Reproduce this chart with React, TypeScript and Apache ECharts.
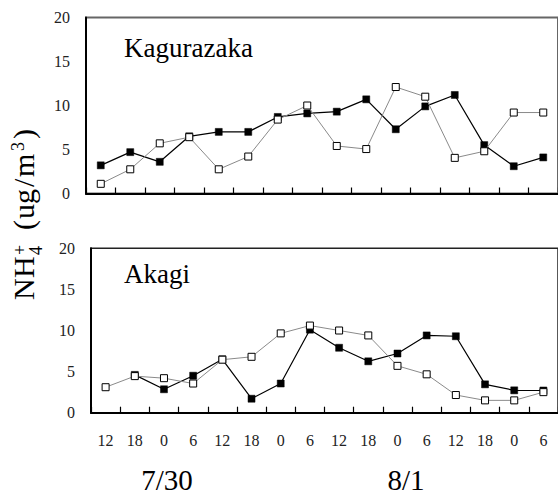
import React, { useEffect, useRef } from "react";
import * as echarts from "echarts";

const categories = ["12", "18", "0", "6", "12", "18", "0", "6", "12", "18", "0", "6", "12", "18", "0", "6"];
const kaguraFilled = [3.2, 4.7, 3.6, 6.5, 7.0, 7.0, 8.7, 9.1, 9.3, 10.7, 7.3, 9.9, 11.2, 5.5, 3.1, 4.1];
const kaguraOpen = [1.1, 2.75, 5.7, 6.4, 2.75, 4.2, 8.4, 10.0, 5.4, 5.05, 12.1, 11.0, 4.05, 4.8, 9.2, 9.2];
const akagiFilled = [null, 4.6, 2.85, 4.5, 6.5, 1.7, 3.55, 10.1, 7.9, 6.25, 7.2, 9.4, 9.3, 3.45, 2.72, 2.7];
const akagiOpen = [3.1, 4.45, 4.2, 3.55, 6.45, 6.8, 9.65, 10.6, 10.0, 9.4, 5.7, 4.67, 2.15, 1.5, 1.5, 2.5];
const yMin = 0;
const yMax = 20;
const yInterval = 5;
const panelNames = ["Kagurazaka", "Akagi"];
const dateLabels = ["7/30", "8/1"];

const FONT = "Liberation Serif";

export default function App() {
  const ref = useRef<HTMLDivElement>(null);
  useEffect(() => {
    if (!ref.current) return;
    const chart = echarts.init(ref.current, undefined, { renderer: "svg" });

    const yAxisBase = (gridIndex: number) => ({
      type: "value",
      gridIndex,
      min: yMin,
      max: yMax,
      interval: yInterval,
      axisLine: { show: true, lineStyle: { color: "#000", width: 2 } },
      axisTick: { show: false },
      splitLine: { show: false },
      axisLabel: { fontFamily: FONT, fontSize: 16, color: "#222", margin: 16 },
    });
    const xAxisBase = (gridIndex: number, showLabel: boolean) => ({
      type: "category",
      gridIndex,
      data: categories,
      boundaryGap: true,
      axisLine: { show: true, lineStyle: { color: "#000", width: 2 } },
      axisTick: { show: true, inside: true, length: 6, lineStyle: { color: "#000", width: 1.2 } },
      splitLine: { show: false },
      axisLabel: { show: showLabel, fontFamily: FONT, fontSize: 16, color: "#222", margin: 20, interval: 0 },
    });

    const filledSeries = (data: (number | null)[], idx: number) => ({
      type: "line",
      xAxisIndex: idx,
      yAxisIndex: idx,
      data,
      symbol: "rect",
      symbolSize: 7,
      showAllSymbol: true,
      lineStyle: { color: "#000", width: 1.2 },
      itemStyle: { color: "#000", borderColor: "#000", borderWidth: 0.5 },
      z: 2,
    });
    const openSeries = (data: (number | null)[], idx: number) => ({
      type: "line",
      xAxisIndex: idx,
      yAxisIndex: idx,
      data,
      symbol: "rect",
      symbolSize: 7,
      showAllSymbol: true,
      lineStyle: { color: "#8a8a8a", width: 1 },
      itemStyle: { color: "#fff", borderColor: "#000", borderWidth: 1 },
      z: 3,
    });

    const fs = 30;
    const small = 18;
    const mid = -0.33 * fs;
    const ch = (text: string, x: number, y: number, size: number) => ({
      type: "text",
      x,
      y,
      style: { text, fontFamily: FONT, fontSize: size, fill: "#000", align: "left", verticalAlign: "middle" },
    });
    const titleChildren = [
      ch("N", 0, mid, fs),
      ch("H", 22, mid, fs),
      ch("4", 45, 3, small),
      ch("+", 45, -13, small),
      ch("(", 70, mid, fs),
      ch("u", 81, mid, fs),
      ch("g", 96, mid, fs),
      ch("/", 113, mid, fs),
      ch("m", 123, mid, fs),
      ch("3", 149, -15, small),
      ch(")", 161, mid, fs),
    ];

    chart.setOption({
      animation: false,
      backgroundColor: "#fff",
      grid: [
        { left: 86, top: 17.5, width: 480, height: 176, show: true, borderColor: "#666", borderWidth: 2, backgroundColor: "transparent" },
        { left: 91, top: 248.3, width: 474, height: 164.4, show: true, borderColor: "#222", borderWidth: 1.5, backgroundColor: "transparent" },
      ],
      xAxis: [xAxisBase(0, false), xAxisBase(1, true)],
      yAxis: [yAxisBase(0), yAxisBase(1)],
      series: [
        filledSeries(kaguraFilled, 0),
        openSeries(kaguraOpen, 0),
        filledSeries(akagiFilled, 1),
        openSeries(akagiOpen, 1),
      ],
      graphic: [
        { type: "text", left: 124, top: 34, style: { text: panelNames[0], fontFamily: FONT, fontSize: 27, fill: "#000" } },
        { type: "text", left: 124, top: 260, style: { text: panelNames[1], fontFamily: FONT, fontSize: 27, fill: "#000" } },
        { type: "text", x: 167, y: 480, style: { text: dateLabels[0], fontFamily: FONT, fontSize: 29, fill: "#000", align: "center", verticalAlign: "middle" } },
        { type: "text", x: 406, y: 480, style: { text: dateLabels[1], fontFamily: FONT, fontSize: 29, fill: "#000", align: "center", verticalAlign: "middle" } },
        { type: "group", x: 33, y: 300, rotation: Math.PI / 2, children: titleChildren },
      ],
    });
    return () => chart.dispose();
  }, []);
  return <div ref={ref} style={{ position: "absolute", left: 0, top: 0, width: 558, height: 495 }} />;
}
